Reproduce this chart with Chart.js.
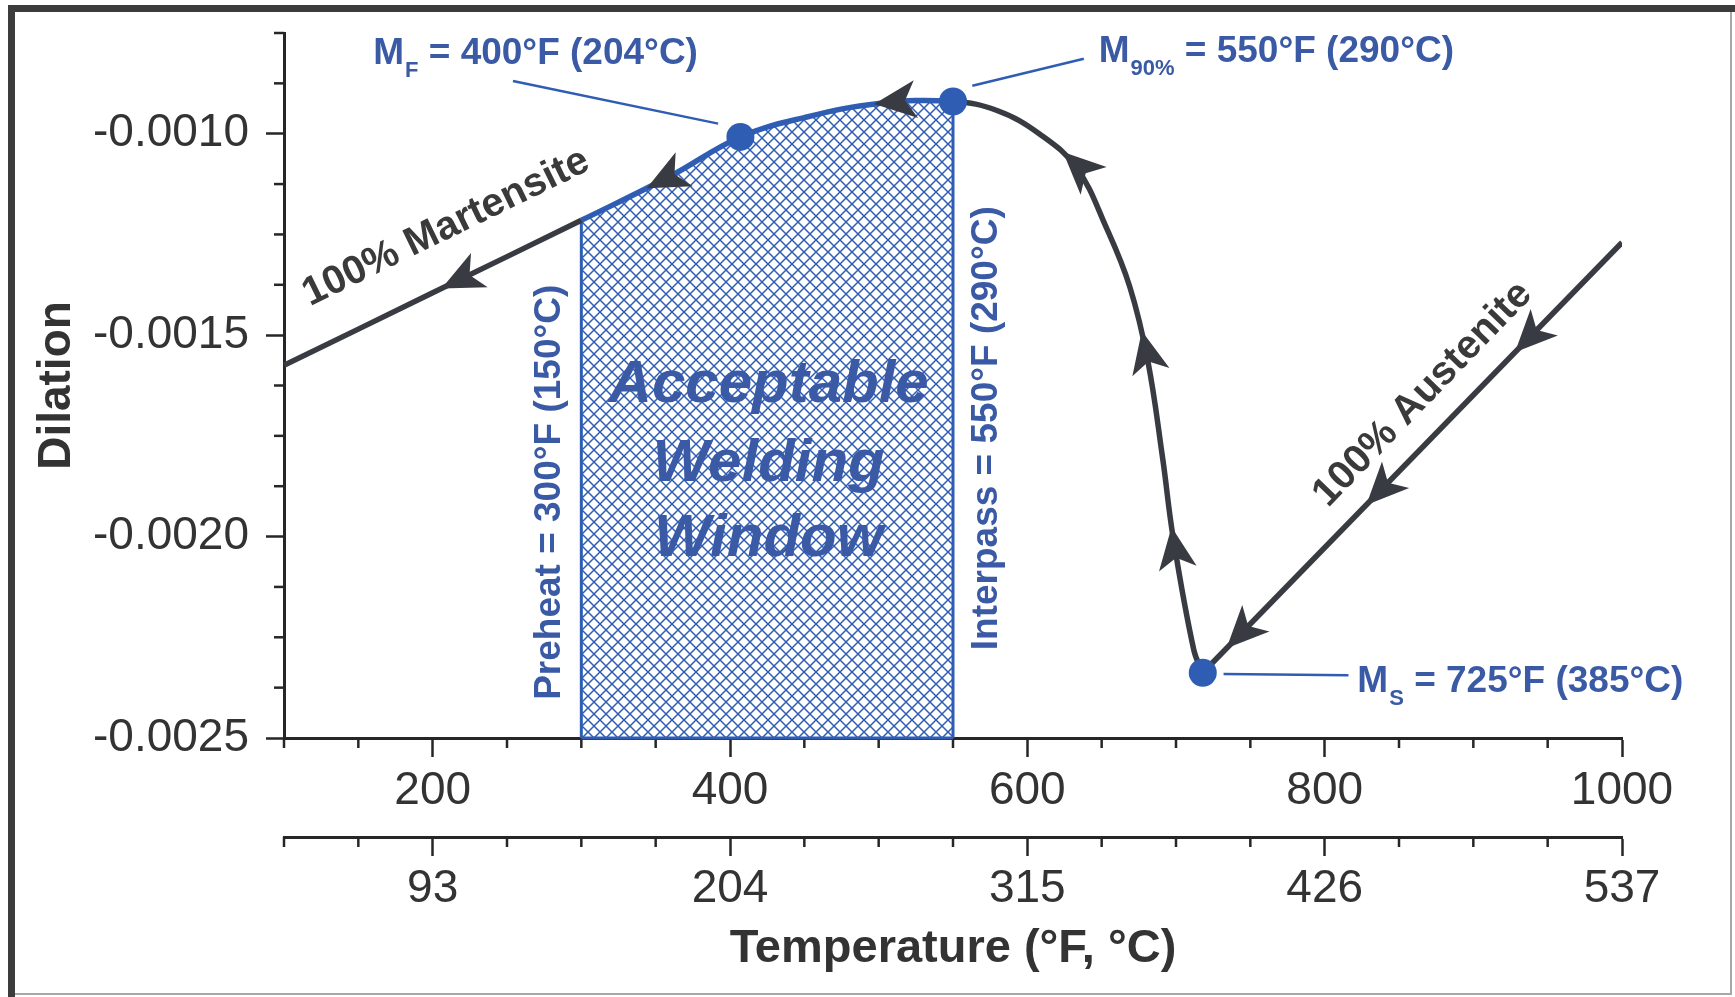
<!DOCTYPE html>
<html>
<head>
<meta charset="utf-8">
<title>Dilation vs Temperature</title>
<script src="https://cdn.jsdelivr.net/npm/chart.js@4.4.1/dist/chart.umd.min.js"></script>
<style>
  html, body { margin: 0; padding: 0; background: #fff; }
  #chart { display: block; }
</style>
</head>
<body>
<canvas id="chart" width="1735" height="997"></canvas>
<script>
// values (temperature in °F, dilation)
const austeniteTemp = [1000, 718];
const austeniteDil = [-0.00127, -0.002338];

const coolingTemp = [718, 712, 698, 691, 681, 669, 653, 633, 608, 580, 550, 500, 450, 407, 360, 300, 200, 100];
const coolingDil = [-0.002338, -0.002282, -0.002000, -0.001805, -0.001563, -0.001381, -0.001232, -0.001084,
  -0.001000, -0.000943, -0.000920, -0.000925, -0.000960, -0.001008, -0.001105, -0.001215, -0.001395, -0.001575];

// M_F, M_90%, M_S
const markerTemp = [407, 550, 718];
const markerDil = [-0.001008, -0.000920, -0.002338];

// preheat / interpass limits
const windowTemp = [300, 550];

// where the arrow tips sit on the path (°F)
const coolingArrows = [624, 677, 697, 497, 344, 206];
const austeniteArrows = [928, 828, 734];

// axes
const fTicks = [200, 400, 600, 800, 1000];
const cLabels = ['93', '204', '315', '426', '537'];
const yTicks = [-0.0025, -0.0020, -0.0015, -0.0010];
const tMin = 100, tMax = 1000, tMinorStep = 50;
const yMin = -0.0025, yMax = -0.00075, yMinorStep = 0.000125;

const FONT = "'Liberation Sans', Arial, Helvetica, sans-serif";
const DARK = '#393b42';
const AXIS = '#262626';
const TEXT = '#333333';
const BLUE = '#2f5db4';
const BLUE_TEXT = '#3a5aa6';

Chart.defaults.font.family = FONT;

// annotation text, placed in data coordinates
const pointLabels = [
  { main: 'M', sub: 'F', rest: ' = 400°F (204°C)', t: 160, d: -0.000826, from: [254, -0.000869], to: [392, -0.000975] },
  { main: 'M', sub: '90%', rest: ' = 550°F (290°C)', t: 648, d: -0.000823, from: [563, -0.000881], to: [638, -0.000814] },
  { main: 'M', sub: 'S', rest: ' = 725°F (385°C)', t: 822, d: -0.002385, from: [732, -0.002341], to: [816, -0.002344] }
];
const pathLabels = [
  { text: '100% Martensite', t: 209, d: -0.001233, angle: -26, color: '#3a3a3a', size: 40 },
  { text: '100% Austenite', t: 866, d: -0.001647, angle: -46, color: '#3a3a3a', size: 40 },
  { text: 'Preheat = 300°F (150°C)', t: 279, d: -0.00189, angle: -90, color: BLUE_TEXT, size: 37 },
  { text: 'Interpass = 550°F (290°C)', t: 573, d: -0.001731, angle: -90, color: BLUE_TEXT, size: 37 }
];
const windowLines = ['Acceptable', 'Welding', 'Window'];
const windowLineDil = [-0.001625, -0.00182, -0.002007];
const windowLineTemp = 426;

function toPoints(xs, ys) {
  return xs.map((x, i) => ({ x: x, y: ys[i] }));
}

function makeHatch(color) {
  const s = 12;
  const c = document.createElement('canvas');
  c.width = s; c.height = s;
  const g = c.getContext('2d');
  g.strokeStyle = color;
  g.lineWidth = 1.5;
  g.beginPath();
  g.moveTo(-1, -1); g.lineTo(s + 1, s + 1);
  g.moveTo(-1, s + 1); g.lineTo(s + 1, -1);
  g.stroke();
  return g.createPattern(c, 'repeat');
}

const cooling = toPoints(coolingTemp, coolingDil);
const austenite = toPoints(austeniteTemp, austeniteDil);
const markers = toPoints(markerTemp, markerDil);
const windowCurve = cooling.filter(p => p.x >= windowTemp[0] && p.x <= windowTemp[1]);
const edgeDil = windowTemp.map(t => coolingDil[coolingTemp.indexOf(t)]);

// find the pixel position and heading on a drawn (possibly curved) line
function locateOnPath(points, px) {
  const bez = (p0, p1, p2, p3, t) => { const u = 1 - t; return u*u*u*p0 + 3*u*u*t*p1 + 3*u*t*t*p2 + t*t*t*p3; };
  const der = (p0, p1, p2, p3, t) => { const u = 1 - t; return 3*u*u*(p1-p0) + 6*u*t*(p2-p1) + 3*t*t*(p3-p2); };
  for (let i = 0; i < points.length - 1; i++) {
    const a = points[i], b = points[i + 1];
    if ((px - a.x) * (px - b.x) > 0 || a.x === b.x) continue;
    const c1x = a.cp2x ?? a.x, c1y = a.cp2y ?? a.y;
    const c2x = b.cp1x ?? b.x, c2y = b.cp1y ?? b.y;
    const inc = b.x > a.x;
    let lo = 0, hi = 1;
    for (let k = 0; k < 40; k++) {
      const mid = (lo + hi) / 2;
      const xm = bez(a.x, c1x, c2x, b.x, mid);
      if ((xm < px) === inc) lo = mid; else hi = mid;
    }
    const t = (lo + hi) / 2;
    const dx = der(a.x, c1x, c2x, b.x, t), dy = der(a.y, c1y, c2y, b.y, t);
    const len = Math.hypot(dx, dy) || 1;
    return { x: bez(a.x, c1x, c2x, b.x, t), y: bez(a.y, c1y, c2y, b.y, t), dx: dx / len, dy: dy / len };
  }
  return null;
}

function drawArrow(ctx, p) {
  const L = 42, W = 19;
  const nx = -p.dy, ny = p.dx;
  ctx.beginPath();
  ctx.moveTo(p.x, p.y);
  ctx.lineTo(p.x - L * p.dx + W * nx, p.y - L * p.dy + W * ny);
  ctx.lineTo(p.x - 0.74 * L * p.dx, p.y - 0.74 * L * p.dy);
  ctx.lineTo(p.x - L * p.dx - W * nx, p.y - L * p.dy - W * ny);
  ctx.closePath();
  ctx.fill();
}

const arrowPlugin = {
  id: 'arrows',
  afterDatasetsDraw(chart) {
    const ctx = chart.ctx;
    const xs = chart.scales.x;
    ctx.save();
    ctx.fillStyle = DARK;
    const coolMeta = chart.getDatasetMeta(1);
    const austMeta = chart.getDatasetMeta(2);
    coolingArrows.forEach(t => {
      const p = locateOnPath(coolMeta.data, xs.getPixelForValue(t));
      if (p) drawArrow(ctx, p);
    });
    austeniteArrows.forEach(t => {
      const p = locateOnPath(austMeta.data, xs.getPixelForValue(t));
      if (p) drawArrow(ctx, p);
    });
    ctx.restore();
  }
};

const decorPlugin = {
  id: 'decor',
  beforeDraw(chart) {
    const ctx = chart.ctx;
    ctx.save();
    ctx.fillStyle = '#ffffff';
    ctx.fillRect(0, 0, chart.width, chart.height);
    ctx.restore();
  },
  afterDraw(chart) {
    const ctx = chart.ctx;
    const xs = chart.scales.x, ys = chart.scales.y;
    const px = v => xs.getPixelForValue(v);
    const py = v => ys.getPixelForValue(v);
    ctx.save();

    // minor ticks
    ctx.strokeStyle = AXIS;
    ctx.lineWidth = 2.5;
    ['x', 'x2'].forEach(id => {
      const s = chart.scales[id];
      for (let v = tMin; v <= tMax; v += tMinorStep) {
        if (fTicks.includes(v)) continue;
        const p = s.getPixelForValue(v);
        ctx.beginPath(); ctx.moveTo(p, s.top); ctx.lineTo(p, s.top + 10); ctx.stroke();
      }
    });
    for (let i = 0; yMin + i * yMinorStep <= yMax + 1e-9; i++) {
      const v = yMin + i * yMinorStep;
      if (yTicks.some(m => Math.abs(m - v) < 1e-9)) continue;
      const p = py(v);
      ctx.beginPath(); ctx.moveTo(ys.right - 10, p); ctx.lineTo(ys.right, p); ctx.stroke();
    }

    // blue floor of the welding window
    ctx.strokeStyle = BLUE;
    ctx.lineWidth = 3;
    ctx.beginPath(); ctx.moveTo(px(windowTemp[0]), py(yMin)); ctx.lineTo(px(windowTemp[1]), py(yMin)); ctx.stroke();

    // leader lines and transformation labels
    ctx.lineWidth = 2.5;
    pointLabels.forEach(l => {
      ctx.strokeStyle = BLUE;
      ctx.beginPath(); ctx.moveTo(px(l.from[0]), py(l.from[1])); ctx.lineTo(px(l.to[0]), py(l.to[1])); ctx.stroke();
      const x = px(l.t), y = py(l.d);
      ctx.fillStyle = BLUE_TEXT;
      ctx.textAlign = 'left';
      ctx.textBaseline = 'alphabetic';
      ctx.font = 'bold 37px ' + FONT;
      ctx.fillText(l.main, x, y);
      let cx = x + ctx.measureText(l.main).width + 1;
      ctx.font = 'bold 22px ' + FONT;
      ctx.fillText(l.sub, cx, y + 13);
      cx += ctx.measureText(l.sub).width;
      ctx.font = 'bold 37px ' + FONT;
      ctx.fillText(l.rest, cx, y);
    });

    // rotated labels
    pathLabels.forEach(l => {
      ctx.save();
      ctx.translate(px(l.t), py(l.d));
      ctx.rotate(l.angle * Math.PI / 180);
      ctx.font = 'bold ' + l.size + 'px ' + FONT;
      ctx.fillStyle = l.color;
      ctx.textAlign = 'center';
      ctx.textBaseline = 'middle';
      ctx.fillText(l.text, 0, 0);
      ctx.restore();
    });

    // window caption
    ctx.font = 'italic bold 60px ' + FONT;
    ctx.fillStyle = BLUE_TEXT;
    ctx.textAlign = 'center';
    ctx.textBaseline = 'middle';
    windowLines.forEach((s, i) => ctx.fillText(s, px(windowLineTemp), py(windowLineDil[i])));

    // picture frame
    ctx.fillStyle = '#3c3c3c';
    ctx.fillRect(8, 5, chart.width - 8, 7);
    ctx.fillRect(8, 5, 7, chart.height - 5);
    ctx.strokeStyle = '#a8a8a8';
    ctx.lineWidth = 2;
    ctx.beginPath();
    ctx.moveTo(chart.width - 4, 12); ctx.lineTo(chart.width - 4, chart.height - 3);
    ctx.lineTo(15, chart.height - 3);
    ctx.stroke();

    ctx.restore();
  }
};

const axisGrid = { drawOnChartArea: false, drawTicks: true, tickLength: 19, tickWidth: 2.5, tickColor: AXIS };
const axisBorder = { display: true, color: AXIS, width: 3 };

new Chart(document.getElementById('chart'), {
  type: 'scatter',
  data: {
    datasets: [
      { label: 'markers', data: markers, showLine: false, pointRadius: 14, pointHoverRadius: 14,
        pointBackgroundColor: BLUE, pointBorderWidth: 0, order: 0 },
      { label: 'cooling', data: cooling, showLine: true, borderColor: DARK, borderWidth: 5.5, tension: 0.4,
        pointRadius: 0, order: 1, borderCapStyle: 'butt',
        segment: { borderColor: c => (c.p0.parsed.x <= windowTemp[1] && c.p1.parsed.x >= windowTemp[0]) ? BLUE : DARK } },
      { label: 'austenite', data: austenite, showLine: true, borderColor: DARK, borderWidth: 5.5,
        pointRadius: 0, order: 1 },
      { label: 'preheat', data: [{ x: windowTemp[0], y: yMin }, { x: windowTemp[0], y: edgeDil[0] }],
        showLine: true, borderColor: BLUE, borderWidth: 3, pointRadius: 0, order: 2 },
      { label: 'interpass', data: [{ x: windowTemp[1], y: yMin }, { x: windowTemp[1], y: edgeDil[1] }],
        showLine: true, borderColor: BLUE, borderWidth: 3, pointRadius: 0, order: 2 },
      { label: 'window', data: windowCurve, showLine: true, borderWidth: 0, borderColor: 'rgba(0,0,0,0)',
        tension: 0.4, pointRadius: 0, fill: 'start', backgroundColor: makeHatch(BLUE), order: 3 }
    ]
  },
  options: {
    responsive: false,
    animation: false,
    devicePixelRatio: 1,
    events: [],
    layout: { padding: { left: 0, top: 33, right: 113, bottom: 20 } },
    plugins: { legend: { display: false }, tooltip: { enabled: false } },
    scales: {
      x: {
        type: 'linear', position: 'bottom', min: tMin, max: tMax, weight: 0,
        afterBuildTicks: s => { s.ticks = fTicks.map(v => ({ value: v })); },
        afterFit: s => { s.height = 99; },
        grid: axisGrid,
        border: axisBorder,
        ticks: { font: { size: 46 }, color: TEXT, padding: 7, maxRotation: 0, autoSkip: false, callback: v => String(v) }
      },
      x2: {
        type: 'linear', position: 'bottom', min: tMin, max: tMax, weight: 1,
        afterBuildTicks: s => { s.ticks = fTicks.map(v => ({ value: v })); },
        afterFit: s => { s.height = 140; },
        grid: axisGrid,
        border: axisBorder,
        ticks: { font: { size: 46 }, color: TEXT, padding: 6, maxRotation: 0, autoSkip: false, callback: (v, i) => cLabels[i] },
        title: { display: true, text: 'Temperature (°F, °C)', font: { size: 47, weight: 'bold' }, color: TEXT,
          padding: { top: 0, bottom: 0 } }
      },
      y: {
        type: 'linear', position: 'left', min: yMin, max: yMax,
        afterBuildTicks: s => { s.ticks = yTicks.map(v => ({ value: v })); },
        afterFit: s => { s.width = 284; s.paddingTop = 0; s.paddingBottom = 0; },
        grid: { drawOnChartArea: false, drawTicks: true, tickLength: 18, tickWidth: 2.5, tickColor: AXIS },
        border: axisBorder,
        ticks: { font: { size: 46 }, color: TEXT, padding: 17, autoSkip: false, callback: v => v.toFixed(4) },
        title: { display: true, text: 'Dilation', font: { size: 46, weight: 'bold' }, color: TEXT,
          padding: { top: 30, bottom: 0 } }
      }
    }
  },
  plugins: [arrowPlugin, decorPlugin]
});
</script>
</body>
</html>
